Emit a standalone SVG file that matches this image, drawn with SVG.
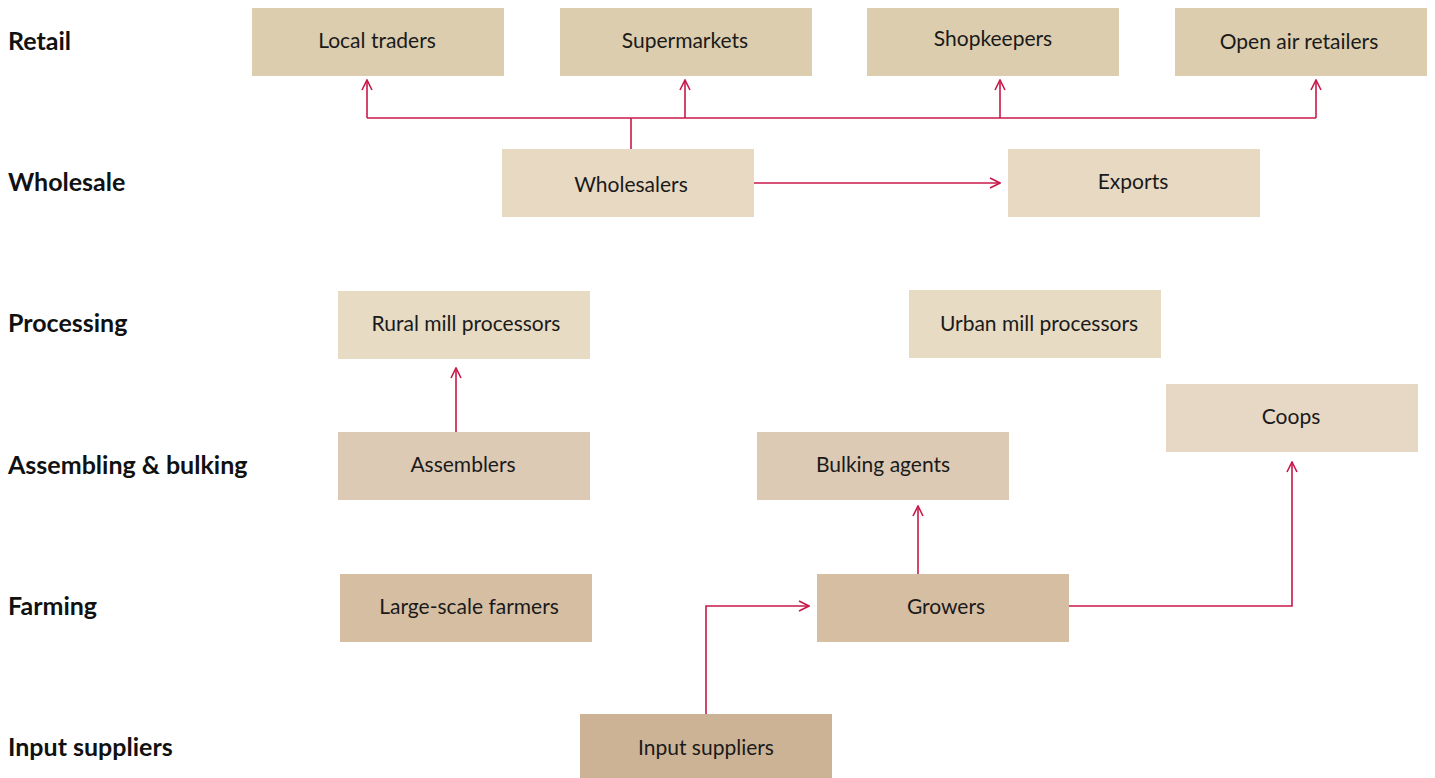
<svg xmlns="http://www.w3.org/2000/svg" width="1435" height="778" viewBox="0 0 1435 778">
  <style>
    .tier { font-family: Lato, "Noto Sans", sans-serif; font-weight: 700; font-size: 25px; fill: #111; }
    .lbl { font-family: Lato, "Noto Sans", sans-serif; font-size: 21px; fill: #1a1a1a; text-anchor: middle; dominant-baseline: central; }
    .retail { fill: #dccdae; }
    .whole { fill: #e7d9c2; }
    .proc { fill: #e7dbc4; }
    .coop { fill: #e7d7c5; }
    .assem { fill: #ddcab5; }
    .farm { fill: #d6bea3; }
    .input { fill: #cdb396; }
    .flow { fill: none; stroke: #c8184a; stroke-width: 1.6; }
  </style>
  <defs>
    <marker id="arrow" viewBox="0 0 12 12" refX="11" refY="6" markerWidth="12" markerHeight="12" markerUnits="userSpaceOnUse" orient="auto">
      <path d="M1,1 L11,6 L1,11" fill="none" stroke="#c8184a" stroke-width="1.6"/>
    </marker>
  </defs>
  <rect width="1435" height="778" fill="#ffffff"/>

  <!-- tier headings -->
  <g id="tiers">
    <text class="tier" x="8" y="50">Retail</text>
    <text class="tier" x="8" y="191">Wholesale</text>
    <text class="tier" x="8" y="332">Processing</text>
    <text class="tier" x="8" y="474">Assembling &amp; bulking</text>
    <text class="tier" x="8" y="615">Farming</text>
    <text class="tier" x="8" y="756">Input suppliers</text>
  </g>

  <!-- connectors -->
  <g id="connectors">
    <path class="flow" d="M631,149 V118"/>
    <path class="flow" d="M367,118 H1316"/>
    <path class="flow" d="M367,118 V80" marker-end="url(#arrow)"/>
    <path class="flow" d="M685,118 V80" marker-end="url(#arrow)"/>
    <path class="flow" d="M1000,118 V80" marker-end="url(#arrow)"/>
    <path class="flow" d="M1316,118 V80" marker-end="url(#arrow)"/>
    <path class="flow" d="M754,183 H1000" marker-end="url(#arrow)"/>
    <path class="flow" d="M456,432 V368" marker-end="url(#arrow)"/>
    <path class="flow" d="M918,574 V506" marker-end="url(#arrow)"/>
    <path class="flow" d="M1069,606 H1292 V462" marker-end="url(#arrow)"/>
    <path class="flow" d="M706,714 V606 H809" marker-end="url(#arrow)"/>
  </g>

  <g id="local-traders"><rect class="retail" x="252" y="8" width="252" height="68"/><text class="lbl" x="377" y="39">Local traders</text></g>
  <g id="supermarkets"><rect class="retail" x="560" y="8" width="252" height="68"/><text class="lbl" x="685" y="39">Supermarkets</text></g>
  <g id="shopkeepers"><rect class="retail" x="867" y="8" width="252" height="68"/><text class="lbl" x="993" y="37">Shopkeepers</text></g>
  <g id="open-air-retailers"><rect class="retail" x="1175" y="8" width="252" height="68"/><text class="lbl" x="1299" y="40">Open air retailers</text></g>

  <g id="wholesalers"><rect class="whole" x="502" y="149" width="252" height="68"/><text class="lbl" x="631" y="183">Wholesalers</text></g>
  <g id="exports"><rect class="whole" x="1008" y="149" width="252" height="68"/><text class="lbl" x="1133" y="180">Exports</text></g>

  <g id="rural-mill-processors"><rect class="proc" x="338" y="291" width="252" height="68"/><text class="lbl" x="466" y="322">Rural mill processors</text></g>
  <g id="urban-mill-processors"><rect class="proc" x="909" y="290" width="252" height="68"/><text class="lbl" x="1039" y="322">Urban mill processors</text></g>

  <g id="coops"><rect class="coop" x="1166" y="384" width="252" height="68"/><text class="lbl" x="1291" y="415">Coops</text></g>
  <g id="assemblers"><rect class="assem" x="338" y="432" width="252" height="68"/><text class="lbl" x="463" y="463">Assemblers</text></g>
  <g id="bulking-agents"><rect class="assem" x="757" y="432" width="252" height="68"/><text class="lbl" x="883" y="463">Bulking agents</text></g>

  <g id="large-scale-farmers"><rect class="farm" x="340" y="574" width="252" height="68"/><text class="lbl" x="469" y="605">Large-scale farmers</text></g>
  <g id="growers"><rect class="farm" x="817" y="574" width="252" height="68"/><text class="lbl" x="946" y="605">Growers</text></g>

  <g id="input-suppliers"><rect class="input" x="580" y="714" width="252" height="64"/><text class="lbl" x="706" y="746">Input suppliers</text></g>
</svg>
